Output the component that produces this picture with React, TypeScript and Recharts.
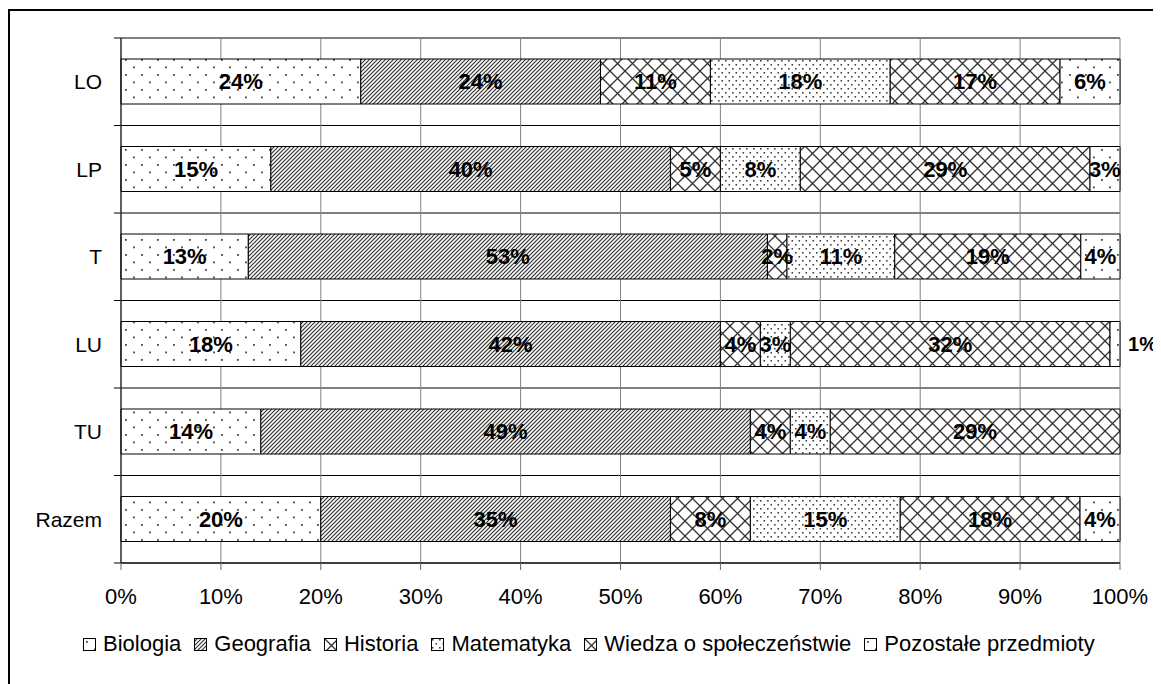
import { BarChart, Bar, XAxis, YAxis, CartesianGrid, LabelList } from "recharts";

const categories = ["LO", "LP", "T", "LU", "TU", "Razem"];
const biologia = [24, 15, 13, 18, 14, 20];
const geografia = [24, 40, 53, 42, 49, 35];
const historia = [11, 5, 2, 4, 4, 8];
const matematyka = [18, 8, 11, 3, 4, 15];
const wiedza = [17, 29, 19, 32, 29, 18];
const pozostale = [6, 3, 4, 1, 0, 4];
const xTicks = [0, 0.1, 0.2, 0.3, 0.4, 0.5, 0.6, 0.7, 0.8, 0.9, 1];

const series = [
  { key: "bio", name: "Biologia", fill: "url(#pDots)" },
  { key: "geo", name: "Geografia", fill: "url(#pHatch)" },
  { key: "hist", name: "Historia", fill: "url(#pCross)" },
  { key: "mat", name: "Matematyka", fill: "url(#pFine)" },
  { key: "wos", name: "Wiedza o społeczeństwie", fill: "url(#pCross)" },
  { key: "poz", name: "Pozostałe przedmioty", fill: "url(#pDots)" },
];

const data = categories.map((name, i) => ({
  name,
  bio: biologia[i],
  geo: geografia[i],
  hist: historia[i],
  mat: matematyka[i],
  wos: wiedza[i],
  poz: pozostale[i],
}));

const FONT = "'Liberation Sans', Arial, sans-serif";

function Patterns() {
  return (
    <svg width={0} height={0} style={{ position: "absolute" }}>
      <defs>
        <pattern id="pDots" patternUnits="userSpaceOnUse" width={16} height={15}>
          <rect width={16} height={15} fill="#fff" />
          <rect x={3} y={3} width={1.8} height={1.8} fill="#444" />
          <rect x={11} y={10.5} width={1.8} height={1.8} fill="#444" />
        </pattern>
        <pattern id="pHatch" patternUnits="userSpaceOnUse" width={4} height={4}>
          <rect width={4} height={4} fill="#fff" />
          <path d="M-1,1 l2,-2 M0,4 l4,-4 M3,5 l2,-2" stroke="#333" strokeWidth={1.2} />
        </pattern>
        <pattern id="pCross" patternUnits="userSpaceOnUse" width={15} height={15}>
          <rect width={15} height={15} fill="#fff" />
          <path d="M0,0 L15,15 M15,0 L0,15" stroke="#333" strokeWidth={1.3} />
        </pattern>
        <pattern id="pFine" patternUnits="userSpaceOnUse" width={7} height={8}>
          <rect width={7} height={8} fill="#fff" />
          <rect x={1} y={1} width={1.6} height={1.6} fill="#444" />
          <rect x={4.5} y={5} width={1.6} height={1.6} fill="#444" />
        </pattern>
      </defs>
    </svg>
  );
}

const renderLabel = (props: any) => {
  const { x, y, width, height, value } = props;
  if (!value) return null;
  const small = width < 12;
  return (
    <text
      x={small ? x + width + 8 : x + width / 2}
      y={y + height / 2}
      textAnchor={small ? "start" : "middle"}
      dominantBaseline="central"
      fontFamily={FONT}
      fontWeight="bold"
      fontSize={small ? 20 : 22}
      fill="#000"
    >
      {value}%
    </text>
  );
};

const YTick = (props: any) => (
  <text x={props.x} y={props.y} textAnchor="end" dominantBaseline="central" fontFamily={FONT} fontSize={21} fill="#000">
    {props.payload.value}
  </text>
);

const XTick = (props: any) => (
  <text x={props.x} y={props.y} textAnchor="middle" dominantBaseline="central" fontFamily={FONT} fontSize={22} fill="#000">
    {Math.round(props.payload.value * 100)}%
  </text>
);

export default function App() {
  return (
    <div
      style={{
        position: "relative",
        top: 1,
        width: 1160,
        height: 680,
        borderTop: "2px solid #000",
        borderLeft: "2px solid #000",
        boxSizing: "border-box",
        fontFamily: FONT,
      }}
    >
      <style>{`body{overflow:hidden}`}</style>
      <Patterns />
      <BarChart
        width={1150}
        height={665}
        data={data}
        layout="vertical"
        stackOffset="expand"
        barSize={45}
        margin={{ top: 27, right: 40, bottom: 0, left: 11 }}
      >
        <CartesianGrid
          stroke="#808080"
          horizontalCoordinatesGenerator={({ offset }: any) =>
            [...categories, ""].map((_, i) => offset.top + (i * offset.height) / categories.length)
          }
          horizontal={(p: any) => (
            <line key={`h-${p.index}`} x1={p.x1 - 7} y1={p.y1} x2={p.x2} y2={p.y2} stroke="#000" strokeWidth={1} />
          )}
        />
        <XAxis
          type="number"
          domain={[0, 1]}
          ticks={xTicks}
          tickSize={7}
          tickMargin={26}
          height={113}
          axisLine={{ stroke: "#000" }}
          tickLine={{ stroke: "#666" }}
          tick={<XTick />}
        />
        <YAxis
          type="category"
          dataKey="name"
          width={100}
          tickSize={0}
          tickMargin={19}
          axisLine={{ stroke: "#000" }}
          tickLine={false}
          tick={<YTick />}
        />
        {series.map((s) => (
          <Bar key={s.key} dataKey={s.key} name={s.name} stackId="a" fill={s.fill} stroke="#000" strokeWidth={1} isAnimationActive={false}>
            <LabelList dataKey={s.key} content={renderLabel} />
          </Bar>
        ))}
      </BarChart>
      <div
        style={{
          position: "absolute",
          left: 73,
          top: 620,
          display: "flex",
          alignItems: "center",
          whiteSpace: "nowrap",
          fontSize: 22,
          color: "#000",
        }}
      >
        {series.map((s) => (
          <span key={s.key} style={{ display: "inline-flex", alignItems: "center", marginRight: 13 }}>
            <svg width={13} height={13} style={{ marginRight: 7 }}>
              <rect x={0.5} y={0.5} width={12} height={12} fill={s.fill} stroke="#000" />
            </svg>
            {s.name}
          </span>
        ))}
      </div>
    </div>
  );
}
